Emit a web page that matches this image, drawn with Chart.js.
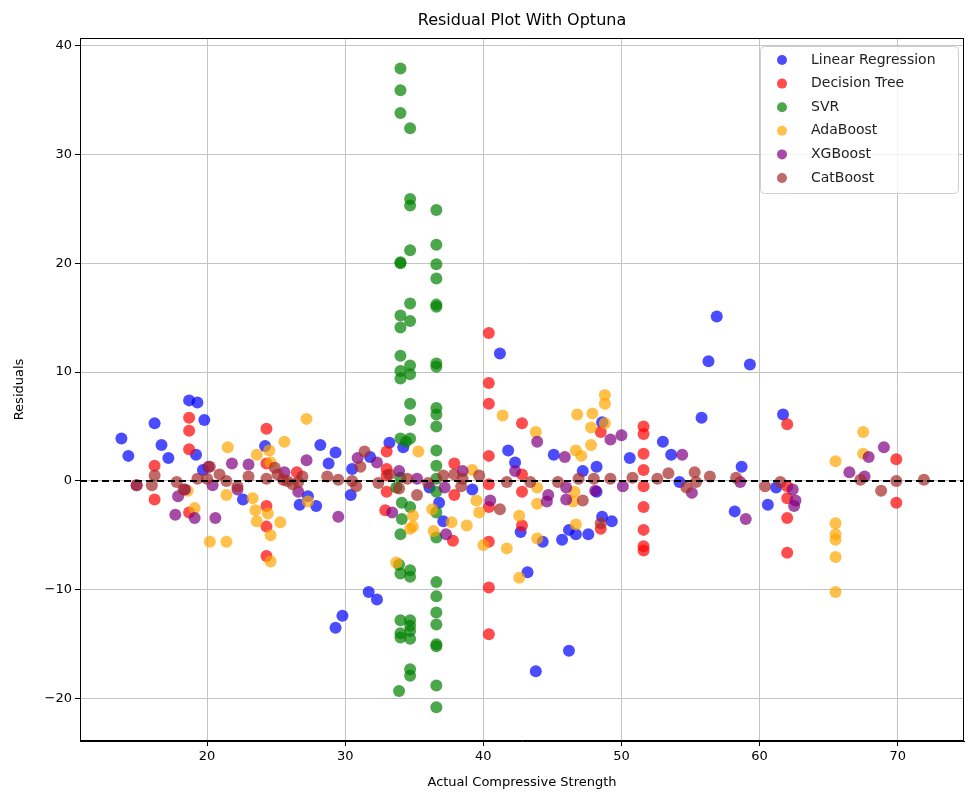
<!DOCTYPE html>
<html><head><meta charset="utf-8">
<script src="https://cdn.jsdelivr.net/npm/chart.js@4.4.0/dist/chart.umd.min.js"></script>
<style>html,body{margin:0;padding:0;background:#fff}#wrap{width:970px;height:792px}</style>
</head><body><div id="wrap"><canvas id="c" width="970" height="792"></canvas></div>
<script>
const seriesNames = ['Linear Regression','Decision Tree','SVR','AdaBoost','XGBoost','CatBoost'];
const xTicks = [20,30,40,50,60,70];
const yTicks = [-20,-10,0,10,20,30,40];

const linearRegression = [[13.8,3.9],[14.3,2.3],[16.2,5.3],[16.7,3.3],[17.2,2.1],[18.7,7.4],[19.3,7.2],[19.8,5.6],[19.2,2.4],[19.7,1.0],[22.6,-1.7],[24.2,3.2],[26.7,-2.2],[27.3,-1.4],[27.9,-2.3],[28.2,3.3],[29.3,2.6],[28.8,1.6],[30.4,-1.3],[30.5,1.1],[31.8,2.2],[33.2,3.5],[34.2,3.1],[36.1,-0.6],[36.8,-2.0],[37.1,-3.7],[39.2,-0.8],[31.7,-10.2],[32.3,-10.9],[29.8,-12.4],[29.3,-13.5],[41.2,11.7],[41.8,2.8],[42.3,1.7],[45.1,2.4],[47.2,0.9],[48.2,1.3],[48.6,5.4],[50.6,2.1],[53.0,3.6],[53.6,2.4],[54.2,-0.1],[42.7,-4.7],[44.3,-5.6],[45.7,-5.4],[46.2,-4.5],[46.7,-4.9],[47.6,-4.9],[48.6,-3.3],[49.3,-3.7],[43.2,-8.4],[46.2,-15.6],[43.8,-17.5],[48.2,-1.0],[55.8,5.8],[56.9,15.1],[56.3,11.0],[59.3,10.7],[61.7,6.1],[58.7,1.3],[58.2,-2.8],[60.6,-2.2],[61.2,-0.6]];

const decisionTree = [[16.2,1.4],[16.2,-1.7],[18.7,5.8],[18.7,4.6],[18.7,2.9],[18.7,-2.9],[24.3,4.8],[24.3,1.6],[24.3,-2.3],[24.3,-4.2],[24.3,-6.9],[26.5,0.8],[33.0,2.7],[33.0,1.1],[33.0,0.5],[33.0,-1.0],[32.9,-2.7],[37.9,1.6],[37.9,-1.3],[37.8,-5.5],[40.4,13.6],[40.4,9.0],[40.4,7.1],[40.4,2.3],[40.4,-0.3],[40.4,-2.4],[40.4,-5.6],[40.4,-9.8],[40.4,-14.1],[42.8,5.3],[42.8,0.6],[42.8,-1.0],[42.8,-4.1],[48.5,4.5],[48.5,-4.4],[51.6,5.0],[51.6,4.3],[51.6,2.5],[51.6,1.0],[51.6,-0.5],[51.6,-2.4],[51.6,-4.5],[51.6,-6.0],[51.6,-6.4],[62.0,5.2],[62.0,-0.5],[62.0,-1.6],[62.0,-3.4],[62.0,-6.6],[69.9,2.0],[69.9,-2.0]];

const svr = [[34.0,37.9],[34.0,35.9],[34.0,33.8],[34.7,32.4],[34.7,25.9],[34.7,25.3],[36.6,24.9],[34.7,21.2],[36.6,21.7],[34.0,20.1],[34.0,20.0],[36.6,19.9],[36.6,18.6],[34.7,16.3],[36.6,16.2],[36.6,16.0],[34.0,15.2],[34.7,14.7],[34.0,14.1],[34.0,11.5],[34.7,10.6],[36.6,10.8],[36.6,10.5],[34.0,10.1],[34.7,9.8],[34.0,9.4],[34.7,7.1],[36.6,6.7],[36.6,6.1],[34.7,5.6],[36.6,5.0],[34.0,3.9],[34.7,3.9],[34.4,3.6],[36.6,2.8],[36.6,1.4],[34.0,0.3],[36.6,0.2],[33.7,-0.6],[36.6,-1.0],[34.1,-2.0],[34.7,-2.4],[34.1,-3.5],[36.6,-2.9],[34.0,-4.9],[36.6,-5.2],[33.9,-7.7],[34.0,-8.5],[34.7,-8.2],[34.7,-8.8],[36.6,-9.3],[36.6,-10.6],[36.6,-12.1],[36.6,-13.2],[36.6,-15.0],[36.6,-15.2],[36.6,-18.8],[36.6,-20.8],[34.0,-12.8],[34.7,-12.8],[34.7,-13.3],[34.7,-13.8],[34.0,-14.0],[34.0,-14.4],[34.7,-14.5],[34.7,-17.3],[34.7,-17.9],[33.9,-19.3]];

const adaBoost = [[18.6,-0.9],[19.1,-2.5],[20.2,-5.6],[21.4,-5.6],[21.5,3.1],[21.4,-1.3],[23.6,2.4],[24.5,2.8],[24.6,1.7],[25.6,3.6],[23.3,-1.6],[23.5,-2.7],[23.6,-3.7],[24.4,-3.0],[25.3,-3.8],[24.6,-5.0],[24.6,-7.4],[27.2,5.7],[27.3,-1.9],[33.7,-7.5],[34.9,-3.2],[34.7,-4.4],[34.9,-4.2],[35.3,2.7],[36.3,-2.6],[36.4,-4.6],[37.7,-3.8],[38.8,-4.1],[39.2,1.0],[39.5,-1.8],[39.7,-2.9],[40.0,-5.9],[41.4,6.0],[41.7,-6.2],[42.6,-3.2],[42.6,-8.9],[43.8,4.5],[43.9,-0.6],[43.9,-2.1],[43.9,-5.3],[46.8,6.1],[47.9,6.2],[47.8,4.9],[48.8,7.9],[48.8,7.1],[48.8,5.3],[47.8,3.3],[46.7,2.8],[47.1,2.3],[46.6,-1.0],[46.5,-1.9],[46.7,-4.0],[65.5,1.8],[65.5,-3.9],[65.5,-4.9],[65.5,-5.4],[65.5,-7.0],[65.5,-10.2],[67.5,4.5],[67.5,2.5]];

const xgBoost = [[14.9,-0.4],[17.7,-3.1],[17.9,-1.4],[18.4,-0.8],[19.1,-3.4],[20.6,-3.4],[20.1,1.3],[20.4,-0.4],[21.8,1.6],[22.2,-0.8],[23.0,1.5],[25.6,0.8],[26.6,-1.0],[27.2,1.9],[29.5,-3.3],[30.9,2.1],[32.3,1.7],[33.4,-2.9],[33.9,0.9],[35.2,0.2],[37.2,-0.6],[37.3,-4.9],[38.5,0.9],[40.5,-1.8],[42.3,0.9],[43.9,3.6],[44.7,-1.3],[44.6,-1.9],[45.9,2.2],[46.0,-0.6],[46.0,-1.7],[48.1,-0.9],[49.2,3.8],[50.0,4.2],[50.1,-0.5],[54.4,2.4],[55.1,-1.1],[58.6,-0.1],[59.0,-3.5],[62.4,-0.8],[62.6,-1.8],[62.5,-2.3],[66.5,0.8],[67.9,2.2],[69.0,3.1],[67.6,0.4]];

const catBoost = [[14.9,-0.4],[16.0,-0.4],[16.2,0.5],[17.8,-0.1],[18.3,-0.8],[19.3,0.2],[20.0,0.2],[20.2,1.3],[20.9,0.6],[21.4,0.0],[22.2,-0.5],[23.0,0.4],[24.3,0.2],[24.9,1.2],[25.1,0.6],[25.5,0.1],[25.8,0.0],[26.2,-0.3],[26.9,0.4],[26.6,-0.1],[28.7,0.4],[29.5,0.1],[30.5,0.0],[30.8,-0.5],[31.1,1.3],[31.4,2.7],[32.4,-0.2],[33.2,0.6],[33.9,-0.7],[34.5,0.2],[35.2,-1.3],[36.0,-0.2],[37.1,0.5],[37.9,0.6],[38.4,-0.5],[38.5,0.2],[39.7,0.5],[41.2,-2.6],[41.7,-0.1],[43.4,-0.1],[45.4,-0.1],[46.9,0.2],[47.2,-1.8],[48.0,0.2],[48.5,-3.9],[49.2,0.2],[50.8,0.3],[52.6,0.2],[53.4,0.7],[54.7,-0.6],[55.3,0.8],[55.4,-0.1],[56.4,0.4],[58.3,0.3],[60.4,-0.5],[61.5,-0.1],[67.3,0.1],[68.8,-0.9],[69.9,0.0],[71.9,0.1]];

const seriesData = [linearRegression, decisionTree, svr, adaBoost, xgBoost, catBoost];
const seriesColors = ['rgba(0,0,255,0.7)','rgba(255,0,0,0.7)','rgba(0,128,0,0.7)','rgba(255,165,0,0.7)','rgba(128,0,128,0.7)','rgba(165,42,42,0.7)'];

const FONT = "'DejaVu Sans', sans-serif";

const datasets = seriesNames.map((name, i) => ({
  label: name,
  data: seriesData[i].map(p => ({x: p[0], y: p[1]})),
  backgroundColor: seriesColors[i],
  borderColor: seriesColors[i],
  borderWidth: 0,
  pointRadius: 6,
  pointHoverRadius: 6,
  order: seriesNames.length - i
}));

const extras = {
  id: 'extras',
  afterDatasetsDraw(chart) {
    const {ctx, chartArea: a, scales} = chart;
    const y0 = scales.y.getPixelForValue(0);
    ctx.save();
    ctx.strokeStyle = '#000';
    ctx.lineWidth = 2;
    ctx.setLineDash([7, 4]);
    ctx.beginPath();
    ctx.moveTo(a.left, y0);
    ctx.lineTo(a.right, y0);
    ctx.stroke();
    ctx.restore();
  },
  afterDraw(chart) {
    const {ctx, chartArea: a} = chart;
    ctx.save();
    ctx.strokeStyle = '#000';
    ctx.lineWidth = 1;
    ctx.strokeRect(a.left + 0.5, a.top + 0.5, a.right - a.left - 1, a.bottom - a.top - 1);
    ctx.fillStyle = '#000';
    ctx.font = '16px ' + FONT;
    ctx.textAlign = 'center';
    ctx.textBaseline = 'middle';
    ctx.fillText('Residual Plot With Optuna', (a.left + a.right) / 2, 21);
    const bx = 760, by = 46, bw = 198, bh = 147;
    ctx.fillStyle = 'rgba(255,255,255,0.8)';
    ctx.strokeStyle = '#d0d0d0';
    ctx.lineWidth = 1;
    ctx.beginPath();
    ctx.roundRect(bx + 0.5, by + 0.5, bw, bh, 4);
    ctx.fill();
    ctx.stroke();
    ctx.font = '14px ' + FONT;
    ctx.textAlign = 'left';
    ctx.textBaseline = 'middle';
    seriesNames.forEach((n, i) => {
      const yy = 60 + i * 23.6;
      ctx.fillStyle = seriesColors[i];
      ctx.beginPath();
      ctx.arc(782, yy, 5, 0, Math.PI * 2);
      ctx.fill();
      ctx.fillStyle = '#222';
      ctx.fillText(n, 811, yy);
    });
    ctx.restore();
  }
};

new Chart(document.getElementById('c'), {
  type: 'scatter',
  data: { datasets },
  options: {
    responsive: false,
    animation: false,
    devicePixelRatio: 1,
    layout: { padding: { top: 38, right: 2, left: 0, bottom: 0 } },
    plugins: { legend: { display: false }, tooltip: { enabled: false }, title: { display: false } },
    scales: {
      x: {
        type: 'linear', min: 10.8, max: 74.8,
        afterBuildTicks: s => { s.ticks = xTicks.map(v => ({value: v})); },
        afterFit: s => { s.height = 51; },
        grid: { color: '#c4c4c4', lineWidth: 1, tickLength: 5, tickColor: '#000', drawTicks: true },
        border: { display: true, color: '#000', width: 1 },
        ticks: { color: '#000', font: { family: FONT, size: 13 }, padding: 3, maxRotation: 0 },
        title: { display: true, text: 'Actual Compressive Strength', color: '#000', font: { family: FONT, size: 13 }, padding: { top: 0, bottom: 2 } }
      },
      y: {
        type: 'linear', min: -23.9, max: 40.7,
        afterBuildTicks: s => { s.ticks = yTicks.map(v => ({value: v})); },
        afterFit: s => { s.width = 80; },
        grid: { color: '#c4c4c4', lineWidth: 1, tickLength: 5, tickColor: '#000', drawTicks: true },
        border: { display: true, color: '#000', width: 1 },
        ticks: { color: '#000', font: { family: FONT, size: 13 }, padding: 3, callback: v => String(v).replace('-', '\u2212') },
        title: { display: true, text: 'Residuals', color: '#000', font: { family: FONT, size: 13 }, padding: { top: 12, bottom: 4 } }
      }
    }
  },
  plugins: [extras]
});
</script></body></html>
